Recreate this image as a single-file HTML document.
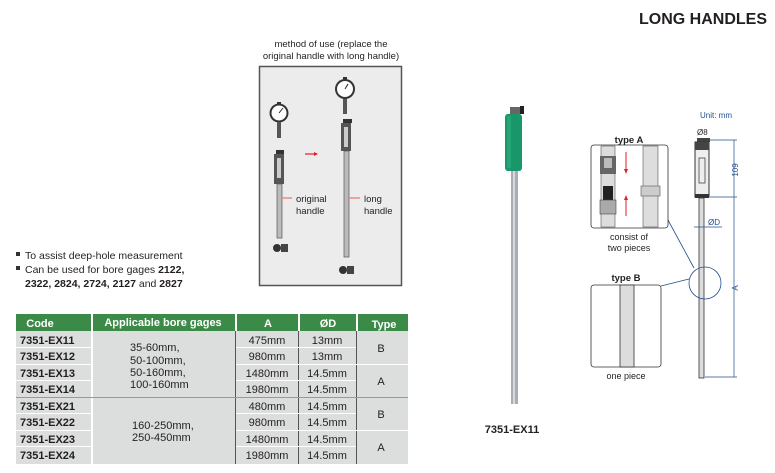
<!DOCTYPE html>
<html><head><meta charset="utf-8"><style>
html,body{margin:0;padding:0;background:#fff;}
svg{display:block;font-family:"Liberation Sans",Arial,sans-serif;}
</style></head><body>
<svg width="775" height="473" viewBox="0 0 775 473" xmlns="http://www.w3.org/2000/svg">
<!-- title -->
<text x="767" y="24" text-anchor="end" font-size="16" font-weight="bold" fill="#231f20">LONG HANDLES</text>

<!-- method of use -->
<text x="331" y="47" text-anchor="middle" font-size="9.5" fill="#231f20">method of use (replace the</text>
<text x="331" y="59" text-anchor="middle" font-size="9.5" fill="#231f20">original handle with long handle)</text>
<rect x="259.5" y="66.5" width="142" height="219" fill="#ececec" stroke="#555" stroke-width="1.5"/>
<!-- left dial -->
<circle cx="279" cy="113" r="9.5" fill="#333"/><circle cx="279" cy="113" r="7.5" fill="#fff"/>
<line x1="279" y1="113" x2="283" y2="108" stroke="#222"/>
<rect x="277" y="102" width="4" height="3" fill="#333"/>
<rect x="277" y="122" width="4" height="16" fill="#555"/>
<!-- original handle -->
<rect x="276" y="150" width="8" height="4" fill="#333"/>
<rect x="274" y="154" width="10" height="30" fill="#555"/><rect x="277" y="158" width="4" height="20" fill="#ccc"/>
<rect x="277" y="184" width="5" height="54" fill="#bbb" stroke="#555" stroke-width="0.7"/>
<circle cx="277" cy="248" r="4" fill="#333"/><rect x="281" y="244" width="7" height="8" fill="#444"/>
<line x1="305" y1="154" x2="317" y2="154" stroke="#e31e24" stroke-width="1.2"/>
<polygon points="318,154 314,152 314,156" fill="#e31e24"/>
<line x1="282" y1="198" x2="292" y2="198" stroke="#e88" stroke-width="1.5"/>
<text x="296" y="202" font-size="9.5" fill="#231f20">original</text>
<text x="296" y="214" font-size="9.5" fill="#231f20">handle</text>
<!-- right dial -->
<circle cx="345" cy="89" r="10" fill="#333"/><circle cx="345" cy="89" r="8" fill="#fff"/>
<line x1="345" y1="89" x2="348" y2="84" stroke="#222"/>
<rect x="343" y="77" width="4" height="3" fill="#333"/>
<rect x="343" y="99" width="4" height="15" fill="#555"/>
<rect x="343" y="119" width="9" height="4" fill="#333"/>
<rect x="341" y="123" width="10" height="28" fill="#555"/><rect x="344" y="127" width="4" height="20" fill="#ccc"/>
<rect x="344" y="151" width="5" height="106" fill="#bbb" stroke="#555" stroke-width="0.7"/>
<circle cx="343" cy="270" r="4" fill="#333"/><rect x="347" y="266" width="7" height="8" fill="#444"/>
<line x1="349" y1="198" x2="360" y2="198" stroke="#e88" stroke-width="1.5"/>
<text x="364" y="202" font-size="9.5" fill="#231f20">long</text>
<text x="364" y="214" font-size="9.5" fill="#231f20">handle</text>

<!-- bullets -->
<g font-size="10.5" fill="#231f20">
<rect x="16" y="252" width="4" height="4" fill="#333"/>
<text x="25" y="259">To assist deep-hole measurement</text>
<rect x="16" y="266" width="4" height="4" fill="#333"/>
<text x="25" y="273">Can be used for bore gages <tspan font-weight="bold">2122,</tspan></text>
<text x="25" y="287" font-weight="bold">2322, 2824, 2724, 2127 <tspan font-weight="normal">and</tspan> 2827</text>
</g>

<!-- table -->
<rect x="16" y="314" width="392" height="17" fill="#3c8a47"/>
<g fill="#fff" stroke="none"><rect x="91" y="314" width="2" height="17"/><rect x="235" y="314" width="2" height="17"/><rect x="298" y="314" width="2" height="17"/><rect x="356" y="314" width="2" height="17"/></g>
<g font-size="11" font-weight="bold" fill="#fff" text-anchor="middle">
<text x="40" y="327">Code</text><text x="163" y="326">Applicable bore gages</text><text x="268" y="327">A</text><text x="328" y="327">ØD</text><text x="384" y="328">Type</text>
</g>
<rect x="16" y="331" width="392" height="133" fill="#dcdddd"/>
<g fill="#fff">
<rect x="91" y="331" width="2" height="133"/><rect x="235" y="331" width="1" height="133" fill="#555"/><rect x="298" y="331" width="1" height="133" fill="#555"/><rect x="356" y="331" width="1" height="133" fill="#555"/>
<rect x="16" y="397" width="392" height="1" fill="#999"/>
</g>
<g stroke="#fff" stroke-width="1">
<line x1="16" y1="347.5" x2="91" y2="347.5"/><line x1="16" y1="364.5" x2="91" y2="364.5"/><line x1="16" y1="380.5" x2="91" y2="380.5"/>
<line x1="16" y1="413.5" x2="91" y2="413.5"/><line x1="16" y1="430.5" x2="91" y2="430.5"/><line x1="16" y1="446.5" x2="91" y2="446.5"/>
<line x1="236" y1="347.5" x2="356" y2="347.5"/><line x1="236" y1="364.5" x2="408" y2="364.5"/><line x1="236" y1="380.5" x2="356" y2="380.5"/>
<line x1="236" y1="413.5" x2="356" y2="413.5"/><line x1="236" y1="430.5" x2="408" y2="430.5"/><line x1="236" y1="446.5" x2="356" y2="446.5"/>
</g>
<g font-size="11" font-weight="bold" fill="#231f20">
<text x="20" y="344">7351-EX11</text><text x="20" y="360">7351-EX12</text><text x="20" y="377">7351-EX13</text><text x="20" y="393">7351-EX14</text>
<text x="20" y="410">7351-EX21</text><text x="20" y="426">7351-EX22</text><text x="20" y="443">7351-EX23</text><text x="20" y="459">7351-EX24</text>
</g>
<g font-size="11" fill="#231f20">
<text x="130" y="351">35-60mm,</text><text x="130" y="364">50-100mm,</text><text x="130" y="376">50-160mm,</text><text x="130" y="388">100-160mm</text>
<text x="132" y="429">160-250mm,</text><text x="132" y="441">250-450mm</text>
</g>
<g font-size="11" fill="#231f20" text-anchor="middle">
<text x="267" y="344">475mm</text><text x="267" y="360">980mm</text><text x="267" y="377">1480mm</text><text x="267" y="393">1980mm</text>
<text x="267" y="410">480mm</text><text x="267" y="426">980mm</text><text x="267" y="443">1480mm</text><text x="267" y="459">1980mm</text>
<text x="327" y="344">13mm</text><text x="327" y="360">13mm</text><text x="327" y="377">14.5mm</text><text x="327" y="393">14.5mm</text>
<text x="327" y="410">14.5mm</text><text x="327" y="426">14.5mm</text><text x="327" y="443">14.5mm</text><text x="327" y="459">14.5mm</text>
<text x="381" y="352">B</text><text x="381" y="385">A</text><text x="381" y="418">B</text><text x="381" y="451">A</text>
</g>

<!-- middle long handle -->
<rect x="510" y="107" width="12" height="7" fill="#666"/><rect x="520" y="106" width="4" height="8" fill="#222"/>
<rect x="505" y="114" width="17" height="57" rx="3" fill="#19966a"/>
<rect x="507" y="116" width="4" height="52" fill="#2fb07e" opacity="0.6"/>
<rect x="511" y="171" width="7" height="233" fill="#a8aeb4"/><rect x="513" y="171" width="2" height="233" fill="#d5dadf"/>
<text x="512" y="433" text-anchor="middle" font-size="11" font-weight="bold" fill="#231f20">7351-EX11</text>

<!-- right drawing -->
<text x="700" y="118" font-size="8" fill="#1f4e8c">Unit: mm</text>
<text x="697" y="135" font-size="8" fill="#231f20">Ø8</text>
<rect x="697" y="138" width="13" height="4" fill="#444"/>
<rect x="695" y="142" width="14" height="55" fill="#eee" stroke="#333" stroke-width="1"/>
<rect x="695" y="142" width="14" height="8" fill="#444"/>
<rect x="699" y="158" width="6" height="25" fill="none" stroke="#444" stroke-width="0.8"/>
<rect x="695" y="194" width="14" height="4" fill="#333"/>
<rect x="699" y="198" width="5" height="180" fill="#ddd" stroke="#333" stroke-width="0.8"/>
<line x1="710" y1="140" x2="737" y2="140" stroke="#1f4e8c" stroke-width="0.7"/>
<line x1="710" y1="197" x2="737" y2="197" stroke="#1f4e8c" stroke-width="0.7"/>
<line x1="705" y1="377" x2="737" y2="377" stroke="#1f4e8c" stroke-width="0.7"/>
<line x1="734" y1="140" x2="734" y2="377" stroke="#1f4e8c" stroke-width="0.7"/>
<text transform="translate(738,170) rotate(-90)" text-anchor="middle" font-size="8" fill="#1f4e8c">109</text>
<text transform="translate(738,288) rotate(-90)" text-anchor="middle" font-size="8" fill="#1f4e8c">A</text>
<line x1="694" y1="227" x2="722" y2="227" stroke="#1f4e8c" stroke-width="0.7"/>
<text x="708" y="225" font-size="8" fill="#1f4e8c">ØD</text>
<circle cx="705" cy="283" r="16" fill="none" stroke="#1f4e8c" stroke-width="0.8"/>
<line x1="668" y1="220" x2="694" y2="268" stroke="#1f4e8c" stroke-width="0.8"/>
<line x1="661" y1="286" x2="689" y2="279" stroke="#1f4e8c" stroke-width="0.8"/>
<!-- type A -->
<text x="629" y="143" text-anchor="middle" font-size="9.5" font-weight="bold" fill="#231f20">type A</text>
<rect x="591" y="145" width="77" height="83" rx="3" fill="#fff" stroke="#333" stroke-width="0.8"/>
<rect x="601" y="146" width="14" height="81" fill="#ddd" stroke="#555" stroke-width="0.6"/>
<rect x="600" y="156" width="16" height="18" fill="#666"/><rect x="604" y="158" width="8" height="10" fill="#bbb"/>
<rect x="603" y="186" width="10" height="14" fill="#222"/>
<rect x="600" y="200" width="16" height="14" fill="#aaa" stroke="#444" stroke-width="0.6"/>
<line x1="626" y1="152" x2="626" y2="172" stroke="#e31e24"/><polygon points="626,174 624,169 628,169" fill="#e31e24"/>
<line x1="626" y1="198" x2="626" y2="216" stroke="#e31e24"/><polygon points="626,195 624,200 628,200" fill="#e31e24"/>
<rect x="643" y="146" width="15" height="81" fill="#ddd" stroke="#555" stroke-width="0.6"/>
<rect x="641" y="186" width="19" height="10" fill="#ccc" stroke="#555" stroke-width="0.6"/>
<text x="629" y="240" text-anchor="middle" font-size="9" fill="#231f20">consist of</text>
<text x="629" y="251" text-anchor="middle" font-size="9" fill="#231f20">two pieces</text>
<!-- type B -->
<text x="626" y="281" text-anchor="middle" font-size="9.5" font-weight="bold" fill="#231f20">type B</text>
<rect x="591" y="285" width="70" height="82" rx="3" fill="#fff" stroke="#333" stroke-width="0.8"/>
<rect x="620" y="285" width="14" height="82" fill="#dcdcdc" stroke="#333" stroke-width="0.8"/>
<text x="626" y="379" text-anchor="middle" font-size="9" fill="#231f20">one piece</text>
</svg>
</body></html>
